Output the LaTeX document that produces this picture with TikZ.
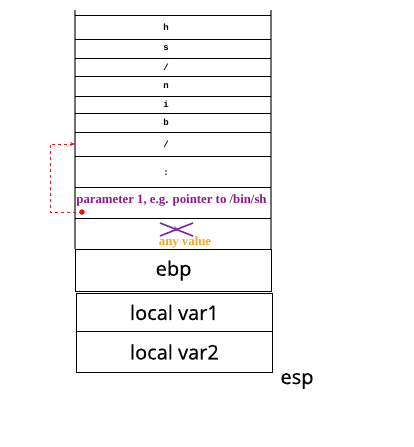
\documentclass[tikz,border=0pt]{standalone}
\usepackage{fontspec}
\setmainfont{Liberation Serif}
\newfontfamily\boxfont[FakeBold=0.5]{Open Sans}
\newfontfamily\cellfont{Liberation Mono}
\usetikzlibrary{arrows.meta}
\definecolor{paramcol}{HTML}{8B1A8B}
\definecolor{crosscol}{HTML}{7A2A9A}
\definecolor{anycol}{HTML}{F5A623}
\definecolor{redcol}{HTML}{E01A1A}
\definecolor{gridgray}{HTML}{707070}
\begin{document}
\begin{tikzpicture}[x=1pt,y=-1pt,
  cell/.style={font=\cellfont\bfseries\fontsize{9}{10}\selectfont, inner sep=0pt},
  regbox/.style={draw=black, line width=1.1pt, minimum width=196pt, inner sep=0pt, anchor=north west, font=\boxfont\fontsize{20}{22}\selectfont},
  hline/.style={black, line width=0.8pt},
  vline/.style={gridgray, line width=1.2pt},
  ptr/.style={redcol, dashed, line width=0.7pt, -{Stealth[length=5pt,width=4pt]}}
]
\useasboundingbox (0,0) rectangle (413,447);
% stack frame lines
\draw[vline] (75,10) -- (75,249);
\draw[vline] (271,10) -- (271,249);
\foreach \yy in {15,39,58,76,96,113,132,156,187,218}
  \draw[hline] (75,\yy) -- (271,\yy);
% cell contents
\node[cell] (ch) at (166,27) {h};
\node[cell] (cs) at (166,48.5) {s};
\node[cell] (cslash1) at (166,67) {/};
\node[cell] (cn) at (166,86) {n};
\node[cell] (ci) at (166,104.5) {i};
\node[cell] (cb) at (166,122.5) {b};
\node[cell] (cslash2) at (166,144) {/};
\node[cell] (ccolon) at (166,173) {:};
\node[font=\bfseries\fontsize{12.8}{14}\selectfont, text=paramcol, inner sep=0pt] (param) at (171.5,200) {parameter 1, e.g. pointer to /bin/sh};
% crossed value
\node[font=\fontsize{7}{7}\selectfont, text=blue!70!black, inner sep=0pt] (oldb) at (176,229) {b};
\draw[crosscol, line width=1.6pt] (160,223) -- (193,236);
\draw[crosscol, line width=1.6pt] (160,236) -- (193,223);
\node[font=\bfseries\fontsize{12.8}{14}\selectfont, text=anycol, inner sep=0pt] (anyv) at (185,242) {any value};
% register boxes
\node[regbox, minimum height=42pt] (ebp) at (75,249) {ebp};
\node[regbox, minimum height=38pt, line width=0.9pt] (lv1) at (76,293) {local var1};
\node[regbox, minimum height=41pt, line width=0.9pt] (lv2) at (76,331) {local var2};
\node[font=\boxfont\fontsize{20}{22}\selectfont, inner sep=0pt] (esp) at (297,381) {esp};
% pointer
\fill[redcol] (82,212) circle (2.8pt) coordinate (dot);
\coordinate (target) at (75,144);
\draw[ptr] (dot) -- (50,212) -- (50,144) -- (target);
\end{tikzpicture}
\end{document}
